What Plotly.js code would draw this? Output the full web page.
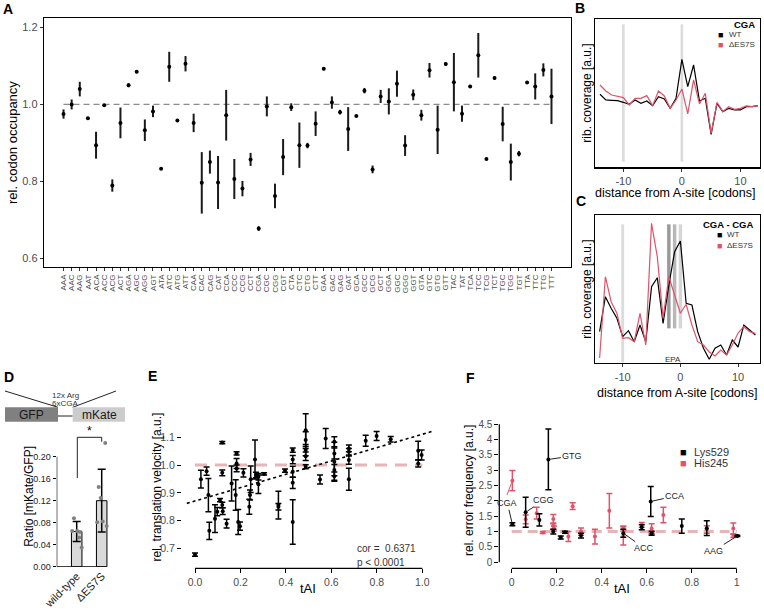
<!DOCTYPE html>
<html>
<head>
<meta charset="utf-8">
<script src="https://cdn.plot.ly/plotly-3.0.1.min.js"></script>
<style>
  body { margin: 0; background: #fff; }
  #fig { width: 764px; height: 612px; }
</style>
</head>
<body>
<div id="fig"></div>
<script>
// ---- panel A: codon occupancy
var codons = ['AAA','AAC','AAG','AAT','ACA','ACC','ACG','ACT','AGA','AGC','AGG','AGT','ATA','ATC','ATG','ATT',
  'CAA','CAC','CAG','CAT','CCA','CCC','CCG','CCT','CGA','CGC','CGG','CGT','CTA','CTC','CTG','CTT',
  'GAA','GAC','GAG','GAT','GCA','GCC','GCG','GCT','GGA','GGC','GGG','GGT','GTA','GTC','GTG','GTT',
  'TAC','TAT','TCA','TCC','TCG','TCT','TGC','TGG','TGT','TTA','TTC','TTG','TTT'];
var occ = [0.975,1.000,1.040,0.964,0.894,0.998,0.789,0.952,1.050,1.085,0.933,0.982,0.833,1.098,0.958,1.106,
  0.952,0.796,0.850,0.797,0.972,0.806,0.781,0.857,0.677,0.995,0.762,0.863,0.993,0.894,0.893,0.950,
  1.093,1.005,0.980,0.936,0.970,1.036,0.831,1.021,1.008,1.054,0.893,1.025,0.972,1.089,0.934,1.105,
  1.058,0.976,1.047,1.128,0.858,1.069,0.949,0.850,0.872,1.057,1.047,1.090,1.021];
var occErr = [0.012,0.013,0.019,0.003,0.035,0.003,0.016,0.040,0.005,0.003,0.028,0.015,0.002,0.039,0.002,0.020,
  0.024,0.080,0.030,0.069,0.066,0.052,0.020,0.017,0.006,0.026,0.032,0.047,0.010,0.059,0.007,0.032,
  0.004,0.016,0.006,0.057,0.002,0.007,0.010,0.017,0.034,0.034,0.027,0.014,0.014,0.019,0.063,0.004,
  0.076,0.021,0.004,0.058,0.002,0.004,0.045,0.048,0.007,0.002,0.034,0.017,0.072];

// ---- panels B and C: metagene profiles
var dist = [-14,-13,-12,-11,-10,-9,-8,-7,-6,-5,-4,-3,-2,-1,0,1,2,3,4,5,6,7,8,9,10,11,12,13];
var cgaWT = [222,205,204,203,198,192,205,195,202,188,215,208,180,210,327,245,310,202,210,102,195,170,180,175,175,185,185,188];
var cgaES = [250,232,220,217,212,190,210,210,218,188,232,217,180,205,238,163,265,193,225,105,198,170,185,177,180,187,185,188];
var cgacgaWT = [31.3,66.3,54.7,44.7,26.3,32.3,21.3,38,21.3,76.3,85.3,39.7,78,111.3,122,59.7,58,31.3,14.7,3.7,14.7,18,8,23,16,38,33,28];
var cgacgaES = [5,86.3,61.3,49.7,24.7,25.3,21.3,49.7,18,139.7,106.3,44.7,86.3,68,49.7,58.7,38,21.3,18,11,7,13,8,18,30,36.3,31.3,29.7];

// ---- panel D: reporter
var strains = ['wild-type', 'ΔES7S'];
var ratioMean = [0.064, 0.120];
var ratioSd = [0.018, 0.057];
var wtRatios = [0.088, 0.065, 0.065, 0.063, 0.053, 0.035];
var esRatios = [0.225, 0.145, 0.125, 0.081, 0.082, 0.074];
var wtJitter = [-0.11, -0.18, 0.02, 0.13, 0.1, 0.2];
var esJitter = [0.14, -0.12, -0.04, -0.18, 0.04, 0.2];

// ---- panel E: velocity vs tAI
var tAIvel = [0.0,0.026,0.051,0.059,0.063,0.088,0.098,0.11,0.12,0.12,0.12,0.122,0.139,0.161,0.179,0.183,0.183,0.183,0.19,0.198,
  0.213,0.239,0.242,0.245,0.264,0.268,0.279,0.279,0.304,0.367,0.367,0.396,0.43,0.43,0.43,0.43,0.43,0.487,0.487,0.487,
  0.487,0.487,0.55,0.575,0.613,0.613,0.613,0.613,0.613,0.677,0.677,0.677,0.677,0.751,0.799,0.861,0.982,0.982,0.997];
var velocity = [0.677,0.949,0.978,0.892,0.763,0.807,0.832,0.874,0.972,1.081,0.856,0.834,0.789,0.934,0.892,1.042,1.006,0.988,0.795,0.78,
  0.972,0.85,0.892,0.949,1.02,0.964,0.931,0.958,0.968,0.856,0.85,0.98,1.054,1.02,0.976,0.936,0.795,1.126,1.09,1.054,
  1.032,0.994,0.948,1.096,1.084,1.042,1.012,0.982,0.96,1.06,1.048,1.018,0.949,1.088,1.105,1.093,1.006,1.052,1.036];
var velocityErr = [0.006,0.032,0.015,0.06,0.031,0.05,0.015,0.006,0.01,0.004,0.01,0.012,0.016,0.063,0.055,0.006,0.018,0.012,0.045,0.015,
  0.015,0.027,0.018,0.048,0.07,0.01,0.033,0.012,0.004,0.05,0.012,0.006,0.008,0.015,0.02,0.02,0.08,0.059,0.03,0.02,
  0.015,0.007,0.016,0.036,0.018,0.02,0.07,0.02,0.015,0.012,0.012,0.015,0.04,0.02,0.016,0.01,0.013,0.034,0.018];
var fitX = [-0.036, 1.05];
var fitY = [0.862, 1.123];

// ---- panel F: error frequency vs tAI
var tAIlys = [0.003,0.062,0.123,0.163,0.185,0.218,0.237,0.308,0.496,0.578,0.618,0.622,0.756,0.867,1.003];
var errLys = [1.24,1.63,1.38,3.35,1.0,0.81,0.98,0.87,0.95,1.14,1.98,0.945,1.18,1.11,0.86];
var sdLys = [0.05,0.49,0.2,0.99,0.08,0.05,0.03,0.08,0.13,0.08,0.49,0.06,0.23,0.24,0.02];
var tAIhis = [0.003,0.062,0.111,0.138,0.185,0.185,0.188,0.252,0.271,0.308,0.37,0.434,0.496,0.496,0.578,0.622,0.622,0.674,0.867,0.985,0.985];
var errHis = [2.66,1.4,1.6,0.97,1.41,1.18,1.1,0.84,1.83,1.0,0.84,1.68,1.1,0.86,1.22,1.1,0.97,1.54,1.07,1.1,0.86];
var sdHis = [0.33,0.14,0.19,0.03,0.15,0.1,0.08,0.16,0.11,0.12,0.24,0.56,0.08,0.3,0.08,0.16,0.06,0.25,0.12,0.18,0.05];

var pink = '#DF536B';
var W = 764, H = 612;
function px(x) { return x / W; }
function py(y) { return 1 - y / H; }

var idx = codons.map(function(c, i) { return i; });

var data = [
  // A
  {x: [0, codons.length - 1], y: [1, 1], mode: 'lines', line: {color: '#8c8c8c', width: 1.3, dash: '6px,4px'},
   xaxis: 'x', yaxis: 'y', hoverinfo: 'skip'},
  {x: idx, y: occ, mode: 'markers', marker: {color: '#000', size: 4},
   error_y: {type: 'data', array: occErr, width: 0, thickness: 2, color: '#1a1a1a'}, xaxis: 'x', yaxis: 'y'},
  // B
  {x: dist, y: cgaWT, mode: 'lines', line: {color: '#000', width: 1.2}, xaxis: 'x2', yaxis: 'y2'},
  {x: dist, y: cgaES, mode: 'lines', line: {color: pink, width: 1.2}, xaxis: 'x2', yaxis: 'y2'},
  // C
  {x: dist, y: cgacgaWT, mode: 'lines', line: {color: '#000', width: 1.2}, xaxis: 'x3', yaxis: 'y3'},
  {x: dist, y: cgacgaES, mode: 'lines', line: {color: pink, width: 1.2}, xaxis: 'x3', yaxis: 'y3'},
  // D
  {type: 'bar', x: [0, 1], y: ratioMean, width: 0.42,
   marker: {color: '#d9d9d9', line: {color: '#000', width: 1}},
   error_y: {type: 'data', array: ratioSd, width: 4, thickness: 1.5, color: '#000'}, xaxis: 'x4', yaxis: 'y4'},
  {x: wtJitter.map(function(j) { return 0 + j; }), y: wtRatios, mode: 'markers',
   marker: {color: '#808080', size: 4}, xaxis: 'x4', yaxis: 'y4'},
  {x: esJitter.map(function(j) { return 1 + j; }), y: esRatios, mode: 'markers',
   marker: {color: '#808080', size: 4}, xaxis: 'x4', yaxis: 'y4'},
  // E
  {x: [0, 1], y: [1, 1], mode: 'lines', line: {color: '#e6b5b5', width: 3, dash: '12px,8px'}, xaxis: 'x5', yaxis: 'y5'},
  {x: tAIvel, y: velocity, mode: 'markers', marker: {color: '#000', size: 4},
   error_y: {type: 'data', array: velocityErr, width: 3, thickness: 1.5, color: '#000'}, xaxis: 'x5', yaxis: 'y5'},
  {x: fitX, y: fitY, mode: 'lines', line: {color: '#000', width: 1.6, dash: 'dot'}, xaxis: 'x5', yaxis: 'y5'},
  // F
  {x: [0, 1], y: [1, 1], mode: 'lines', line: {color: '#e6b5b5', width: 3, dash: '10px,6px'}, xaxis: 'x6', yaxis: 'y6'},
  {x: tAIhis, y: errHis, mode: 'markers', marker: {color: pink, size: 4},
   error_y: {type: 'data', array: sdHis, width: 3, thickness: 1.5, color: pink}, xaxis: 'x6', yaxis: 'y6'},
  {x: tAIlys, y: errLys, mode: 'markers', marker: {color: '#000', size: 4},
   error_y: {type: 'data', array: sdLys, width: 3, thickness: 1.5, color: '#000'}, xaxis: 'x6', yaxis: 'y6'}
];

var tickGrey = '#4d4d4d';
var boxAxis = {showline: true, mirror: true, linecolor: '#000', linewidth: 1.3, showgrid: false, zeroline: false};

function ax(o) { return Object.assign({showgrid: false, zeroline: false}, o); }

var layout = {
  width: W, height: H,
  margin: {l: 0, r: 0, t: 0, b: 0},
  paper_bgcolor: '#fff', plot_bgcolor: 'rgba(0,0,0,0)',
  showlegend: false,
  font: {family: 'Liberation Sans, Arial, sans-serif', color: '#000'},
  xaxis: Object.assign({}, boxAxis, {domain: [px(44), px(571)], anchor: 'y', range: [-2.4, 62.4],
    tickvals: idx, ticktext: codons, tickangle: -90, tickfont: {size: 8, color: tickGrey},
    ticks: 'outside', ticklen: 3, tickcolor: '#333'}),
  yaxis: Object.assign({}, boxAxis, {domain: [py(267), py(18)], anchor: 'x', range: [0.577, 1.225],
    tickvals: [0.6, 0.8, 1.0, 1.2], ticktext: ['0.6', '0.8', '1.0', '1.2'], tickfont: {size: 11, color: tickGrey},
    ticks: 'outside', ticklen: 3, tickcolor: '#333'}),
  xaxis2: Object.assign({}, boxAxis, {domain: [px(595), px(760)], anchor: 'y2', range: [-14.85, 13.35],
    tickvals: [-10, 0, 10], ticktext: ['-10', '0', '10'], tickfont: {size: 11, color: tickGrey},
    ticks: 'outside', ticklen: 3, tickcolor: '#333'}),
  yaxis2: Object.assign({}, boxAxis, {domain: [py(167.3), py(19.3)], anchor: 'x2', range: [3, 447], showticklabels: false}),
  xaxis3: Object.assign({}, boxAxis, {domain: [px(595), px(760)], anchor: 'y3', range: [-14.8, 13.8],
    tickvals: [-10, 0, 10], ticktext: ['-10', '0', '10'], tickfont: {size: 11, color: tickGrey},
    ticks: 'outside', ticklen: 3, tickcolor: '#333'}),
  yaxis3: Object.assign({}, boxAxis, {domain: [py(363), py(215)], anchor: 'x3', range: [0, 148], showticklabels: false}),
  xaxis4: ax({domain: [px(56.7), px(112)], anchor: 'y4', range: [-0.8, 1.412],
    tickvals: [0, 1], ticktext: strains, tickangle: -45, tickfont: {size: 11, color: '#222'}, ticks: ''}),
  yaxis4: ax({domain: [py(566.7), py(430)], anchor: 'x4', range: [0, 0.2485],
    tickvals: [0, 0.04, 0.08, 0.12, 0.16, 0.2], ticktext: ['0.00', '0.04', '0.08', '0.12', '0.16', '0.20'],
    tickfont: {size: 9, color: '#222'}, ticks: 'outside', ticklen: 3, tickcolor: '#000'}),
  xaxis5: ax({domain: [px(182), px(440)], anchor: 'y5', range: [-0.0572, 1.0779],
    tickvals: [0, 0.2, 0.4, 0.6, 0.8, 1], ticktext: ['0.0', '0.2', '0.4', '0.6', '0.8', '1.0'],
    tickfont: {size: 10.5, color: tickGrey}, ticks: 'outside', ticklen: 4, tickcolor: '#000'}),
  yaxis5: ax({domain: [py(568.3), py(405)], anchor: 'x5', range: [0.628, 1.2166],
    tickvals: [0.7, 0.8, 0.9, 1.0, 1.1], ticktext: ['0.7', '0.8', '0.9', '1.0', '1.1'],
    tickfont: {size: 10.5, color: tickGrey}, ticks: 'outside', ticklen: 4, tickcolor: '#000'}),
  xaxis6: ax({domain: [px(499.3), px(760)], anchor: 'y6', range: [-0.0551, 1.1036],
    tickvals: [0, 0.2, 0.4, 0.6, 0.8, 1], ticktext: ['0', '0.2', '0.4', '0.6', '0.8', '1'],
    tickfont: {size: 10.5, color: tickGrey}, ticks: 'outside', ticklen: 4, tickcolor: '#000'}),
  yaxis6: ax({domain: [py(568.3), py(415)], anchor: 'x6', range: [-0.195, 4.798],
    tickvals: [0, 0.5, 1, 1.5, 2, 2.5, 3, 3.5, 4, 4.5], ticktext: ['0', '0.5', '1', '1.5', '2', '2.5', '3', '3.5', '4', '4.5'],
    tickfont: {size: 10, color: tickGrey}, ticks: 'outside', ticklen: 4, tickcolor: '#000'}),
  shapes: [],
  annotations: []
};

// grey bands marking positions in B and C
function band(xr, yr, c, w, y0, y1, col) {
  layout.shapes.push({type: 'rect', xref: xr, yref: yr + ' domain', x0: c - w / 2, x1: c + w / 2, y0: y0, y1: y1,
    fillcolor: col, line: {width: 0}, layer: 'below'});
}
band('x2', 'y2', -10, 0.45, 0.038, 0.966, '#dcdcdc');
band('x2', 'y2', 0, 0.45, 0.038, 0.966, '#dcdcdc');
band('x3', 'y3', -10, 0.5, 0.005, 0.937, '#dcdcdc');
band('x3', 'y3', -2, 0.6, 0.234, 0.937, '#999999');
band('x3', 'y3', -1, 0.6, 0.234, 0.937, '#b8b8b8');
band('x3', 'y3', 0, 0.6, 0.234, 0.937, '#d6d6d6');

// open axis lines for D, E, F
function line(o) { o.type = 'line'; o.line = {color: '#000', width: 1.2}; layout.shapes.push(o); }
line({xref: 'x4', yref: 'y4', x0: -0.8, x1: 1.212, y0: 0, y1: 0});
line({xref: 'x4', yref: 'y4', x0: -0.8, x1: -0.8, y0: 0, y1: 0.2});
line({xref: 'x5', yref: 'y5 domain', x0: 0, x1: 1, y0: 0, y1: 0});
line({xref: 'x6', yref: 'y6 domain', x0: 0, x1: 1, y0: 0, y1: 0});
line({xref: 'x6 domain', yref: 'y6', x0: 0, x1: 0, y0: 0, y1: 4.5});

// D reporter schematic
function pline(x0, y0, x1, y1) {
  layout.shapes.push({type: 'line', xref: 'paper', yref: 'paper', x0: px(x0), y0: py(y0), x1: px(x1), y1: py(y1),
    line: {color: '#222', width: 1}});
}
pline(5, 391, 58, 407.3);
pline(116, 391, 72.7, 407.3);
pline(58, 416, 72.7, 416);
layout.shapes.push({type: 'rect', xref: 'paper', yref: 'paper', x0: px(5), x1: px(58), y0: py(421.7), y1: py(407.3),
  fillcolor: '#808080', line: {width: 0}});
layout.shapes.push({type: 'rect', xref: 'paper', yref: 'paper', x0: px(72.7), x1: px(125), y0: py(421.7), y1: py(407.3),
  fillcolor: '#cccccc', line: {width: 0}});
pline(77.3, 478, 77.3, 437.3);
pline(77.3, 437.3, 101.7, 437.3);
pline(101.7, 437.3, 101.7, 441.7);

function txt(x, y, s, size, opts) {
  layout.annotations.push(Object.assign({xref: 'paper', yref: 'paper', x: px(x), y: py(y), text: s, showarrow: false,
    font: {size: size, color: '#000'}, xanchor: 'center', yanchor: 'middle'}, opts || {}));
}
// panel letters
txt(8, 9, '<b>A</b>', 14);
txt(580, 8, '<b>B</b>', 14);
txt(581, 201, '<b>C</b>', 14);
txt(9, 377, '<b>D</b>', 14);
txt(152, 376, '<b>E</b>', 14);
txt(470, 378, '<b>F</b>', 14);

// axis titles
txt(12, 143, 'rel. codon occupancy', 13, {textangle: -90});
txt(586.7, 93, 'rib. coverage [a.u.]', 12, {textangle: -90});
txt(675, 193.3, 'distance from A-site [codons]', 12.5);
txt(586.7, 289, 'rib. coverage [a.u.]', 12, {textangle: -90});
txt(677, 393, 'distance from A-site [codons]', 12.5);
txt(29, 496.7, 'Ratio [mKate/GFP]', 12, {textangle: -90});
txt(156.7, 486.7, 'rel. translation velocity [a.u.]', 12, {textangle: -90});
txt(308, 588, 'tAI', 13);
txt(469, 491, 'rel. error frequency [a.u.]', 12, {textangle: -90});
txt(621.7, 588, 'tAI', 13);

// B and C legends
txt(757.3, 24.5, '<b>CGA</b>', 9.5, {xanchor: 'right'});
txt(716, 34.5, '■', 9, {xanchor: 'left', font: {size: 9, color: '#000'}});
txt(726.7, 34.5, 'WT', 8, {xanchor: 'left', font: {size: 8, color: '#333'}});
txt(716, 45, '■', 9, {xanchor: 'left', font: {size: 9, color: pink}});
txt(726.7, 45, 'ΔES7S', 8, {xanchor: 'left', font: {size: 8, color: '#333'}});
txt(755, 224.5, '<b>CGA - CGA</b>', 9.5, {xanchor: 'right'});
txt(714.5, 235, '■', 9, {xanchor: 'left', font: {size: 9, color: '#000'}});
txt(724.7, 235, 'WT', 8, {xanchor: 'left', font: {size: 8, color: '#333'}});
txt(714.5, 245.5, '■', 9, {xanchor: 'left', font: {size: 9, color: pink}});
txt(724.7, 245.5, 'ΔES7S', 8, {xanchor: 'left', font: {size: 8, color: '#333'}});
txt(673.3, 359, 'EPA', 8, {font: {size: 8, color: '#333'}});

// D schematic text
txt(65, 395, '12x Arg', 8, {font: {size: 8, color: '#333'}});
txt(65, 403, '6xCGA', 8, {font: {size: 8, color: '#333'}});
txt(31.7, 414.5, 'GFP', 12, {font: {size: 12, color: '#1a1a1a'}});
txt(99, 414.5, 'mKate', 12, {font: {size: 12, color: '#1a1a1a'}});
txt(89, 431, '*', 12);

// E statistics
txt(355, 548, 'cor =  0.6371', 10, {xanchor: 'left', font: {size: 10, color: '#333'}});
txt(355, 562, 'p &lt; 0.0001', 10, {xanchor: 'left', font: {size: 10, color: '#333'}});

// F legend
txt(678, 451.7, '■', 11, {xanchor: 'left', font: {size: 11, color: '#000'}});
txt(692, 451.7, 'Lys529', 11, {xanchor: 'left', font: {size: 11, color: '#333'}});
txt(678, 462.7, '■', 11, {xanchor: 'left', font: {size: 11, color: pink}});
txt(692, 462.7, 'His245', 11, {xanchor: 'left', font: {size: 11, color: '#333'}});

// F codon labels
function lab(xv, yv, s, dx, dy, col) {
  layout.annotations.push({xref: 'x6', yref: 'y6', x: xv, y: yv, text: s, showarrow: true, arrowhead: 0,
    arrowwidth: 1, arrowcolor: col || '#222', ax: dx, ay: dy, standoff: 2,
    font: {size: 9, color: '#222'}});
}
lab(tAIlys[3], errLys[3], 'GTG', 24, -3.5);
lab(tAIlys[1], errLys[1], 'CGG', 18, -12);
lab(tAIlys[0], errLys[0], 'CGA', -5, -21);
lab(tAIhis[0], errHis[0], '', -6, 16, pink);
lab(tAIlys[10], errLys[10], 'CCA', 24, -5.5);
lab(tAIlys[8], errLys[8], 'ACC', 21, 15);
lab(tAIlys[14], errLys[14], 'AAG', -24, 15);

Plotly.newPlot('fig', data, layout, {displayModeBar: false, staticPlot: true});
</script>
</body>
</html>
